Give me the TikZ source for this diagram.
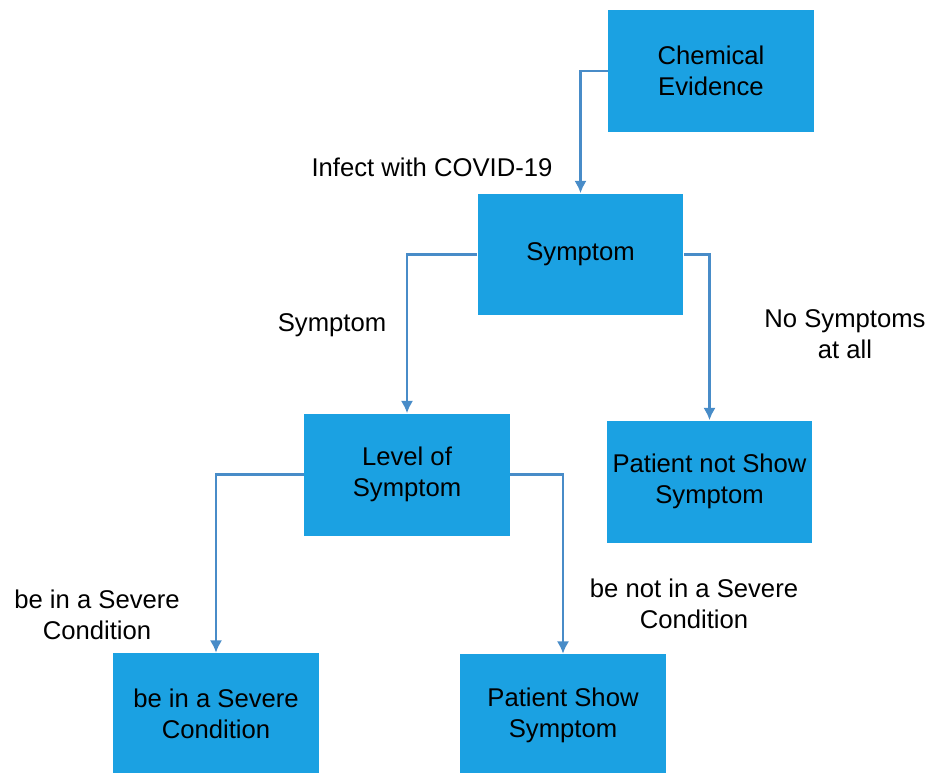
\documentclass[tikz,border=0pt]{standalone}
\usepackage{fontspec}
\setmainfont{Liberation Sans}
\usetikzlibrary{arrows.meta}
\definecolor{boxblue}{RGB}{27,161,226}
\definecolor{lineblue}{RGB}{72,140,200}

\begin{document}
\begin{tikzpicture}
  [x=0.02cm,y=-0.02cm,
   every node/.style={font=\fontsize{14.6}{17.8}\selectfont,align=center},
   box/.style={rectangle,fill=boxblue,minimum width=4.12cm,minimum height=2.44cm,inner sep=0pt},
   link/.style={draw=lineblue,line width=1.3pt,-{Latex[length=7pt,width=7pt]}}]
  \useasboundingbox (0,0) rectangle (930,772);
  \node[box] (chem) at (711,71) {Chemical\\Evidence};
  \node[box] (symp) at (580.5,254.5) {Symptom};
  \node[box] (level) at (407,474.5) {Level of\\Symptom};
  \node[box] (notshow) at (709.5,481.5) {Patient not Show\\Symptom};
  \node[box] (severe) at (216,714) {be in a Severe\\Condition};
  \node[box] (show) at (563,715) {Patient Show\\Symptom};
  \node (infect) at (432,167) {Infect with COVID-19};
  \node (lsymp) at (332,325) {Symptom};
  \node (lnone) at (845,334) {No Symptoms\\at all};
  \node (lsev) at (97,615) {be in a Severe\\Condition};
  \node (lnsev) at (694,604) {be not in a Severe\\Condition};
  \foreach \from/\to in {chem.west/symp.north,symp.west/level.north,symp.east/notshow.north,
                         level.west/severe.north,level.east/show.north}
    \draw[link] (\from) -| (\to);
\end{tikzpicture}
\end{document}
